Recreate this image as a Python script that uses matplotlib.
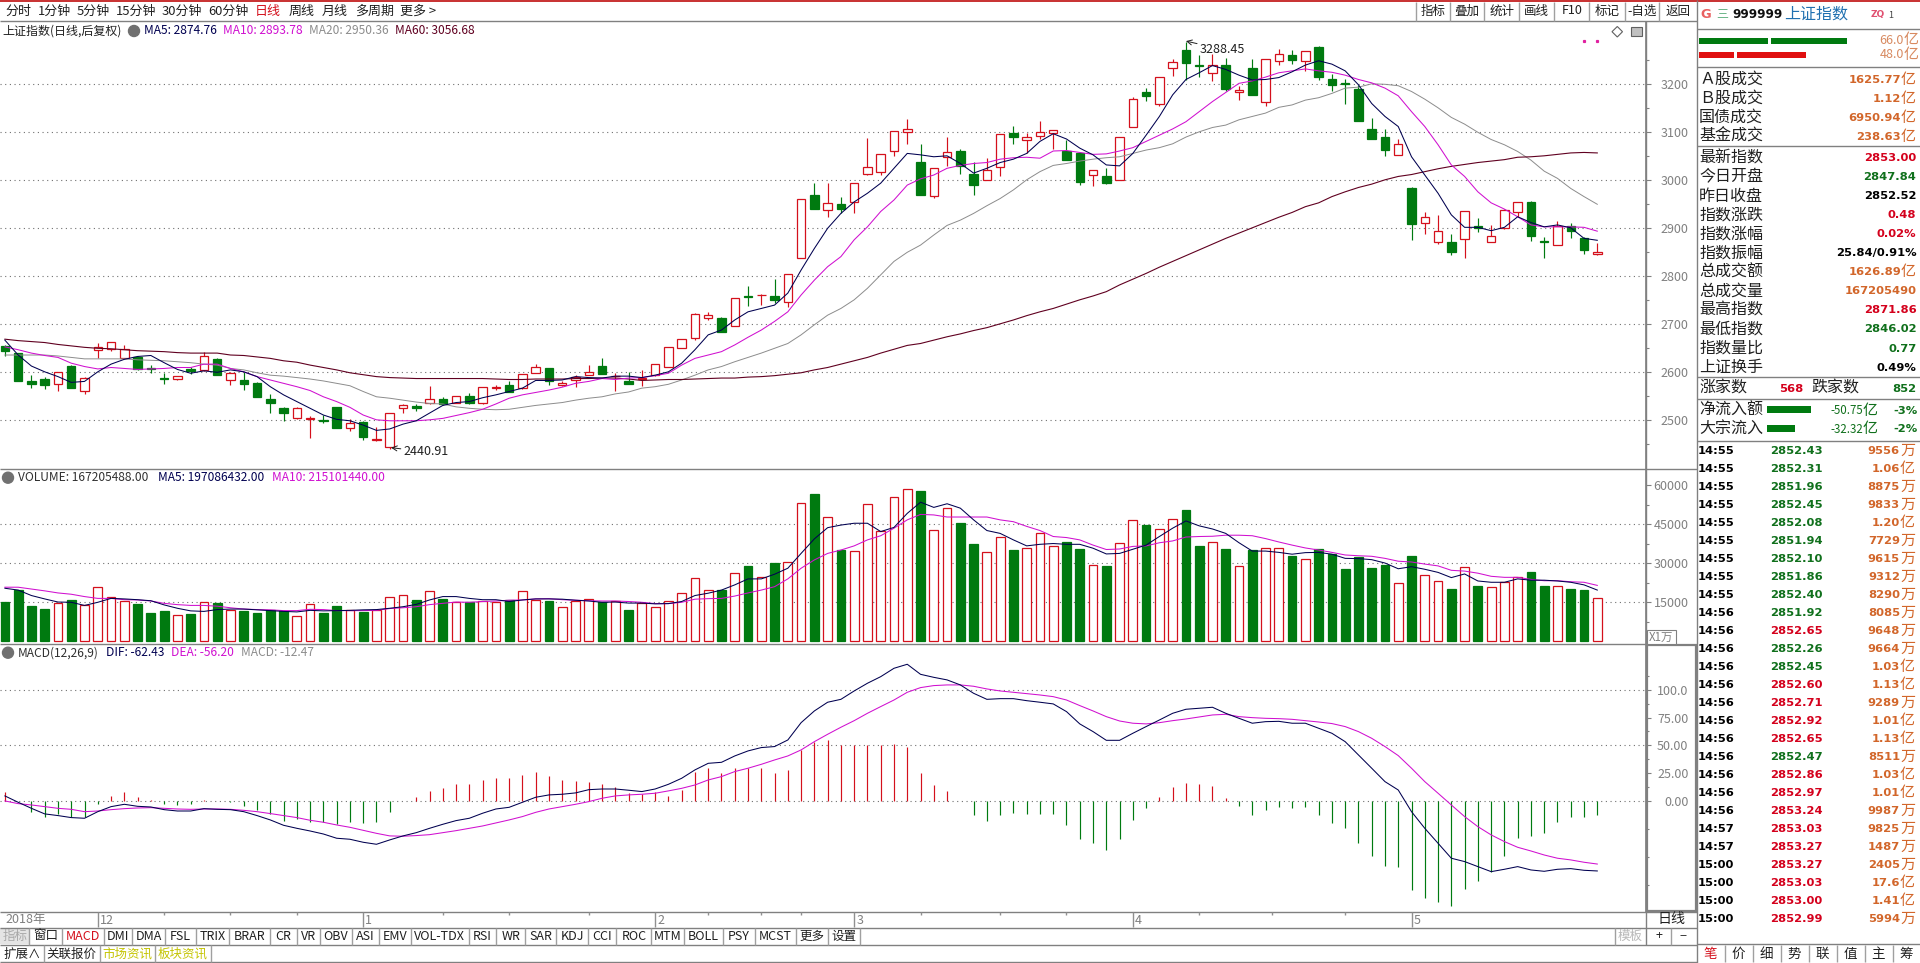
import matplotlib
matplotlib.use("Agg")
import matplotlib.pyplot as plt
from matplotlib.patches import Rectangle, Circle, Polygon

plt.rcParams['font.family'] = ['Noto Sans CJK SC', 'DejaVu Sans']

# candles
opens = [2655,2640,2581,2586,2575,2613,2562,2646,2649,2629,2631,2609,2589,2585,2606,2605,2627,2584,2584,2578,
         2544,2526,2505,2502,2501,2528,2484,2496,2459,2445,2526,2529,2536,2544,2536,2551,2535,2567,2574,2567,
         2598,2608,2574,2583,2595,2614,2592,2582,2585,2595,2612,2651,2672,2714,2713,2697,2759,2760,2759,2747,
         2838,2970,2939,2950,2954,3014,3018,3060,3101,3038,2968,3048,3061,3013,3000,3027,3099,3083,3092,3099,
         3060,3056,3011,3009,3000,3110,3184,3158,3233,3271,3240,3223,3240,3183,3233,3163,3249,3260,3249,3278,
         3210,3202,3190,3106,3090,3052,2983,2912,2872,2871,2877,2904,2871,2901,2933,2955,2873,2866,2904,2879,2846]
closes = [2645,2581,2576,2574,2600,2568,2588,2653,2664,2648,2607,2606,2585,2593,2603,2633,2595,2598,2576,2549,
          2536,2515,2525,2505,2499,2483,2494,2466,2462,2515,2531,2526,2544,2534,2551,2537,2569,2569,2559,2596,
          2611,2582,2578,2591,2600,2597,2593,2576,2588,2617,2652,2670,2722,2719,2683,2754,2756,2762,2751,2804,
          2960,2940,2952,2941,2994,3027,3054,3102,3106,2970,3025,3058,3029,2991,3021,3096,3090,3090,3100,3104,
          3042,2997,3021,2995,3090,3169,3176,3215,3246,3245,3239,3241,3191,3188,3178,3252,3263,3251,3270,3216,
          3199,3200,3124,3087,3063,3076,2908,2924,2894,2851,2937,2901,2883,2938,2954,2883,2871,2904,2894,2854,2851]
highs = [2657,2640,2595,2591,2600,2615,2590,2662,2664,2656,2634,2615,2598,2593,2612,2643,2629,2600,2600,2579,
         2554,2527,2527,2509,2511,2528,2502,2498,2485,2515,2533,2533,2572,2549,2551,2556,2569,2574,2581,2596,
         2617,2608,2582,2595,2615,2629,2598,2600,2605,2617,2652,2670,2724,2726,2715,2754,2780,2763,2794,2804,
         2960,2995,2995,2965,2994,3088,3054,3102,3128,3075,3025,3090,3065,3039,3046,3096,3113,3099,3124,3104,
         3084,3058,3021,3026,3090,3173,3192,3216,3252,3288,3261,3263,3254,3197,3253,3252,3273,3271,3270,3279,
         3222,3210,3199,3129,3106,3085,2986,2934,2928,2888,2937,2922,2906,2941,2954,2956,2881,2916,2910,2881,2869]
lows = [2633,2581,2568,2565,2562,2568,2555,2629,2645,2629,2604,2598,2576,2584,2596,2602,2595,2574,2563,2548,
        2515,2499,2502,2464,2494,2483,2478,2458,2456,2441,2516,2520,2534,2532,2536,2533,2533,2563,2558,2565,
        2598,2574,2572,2570,2595,2597,2560,2576,2571,2593,2612,2650,2667,2708,2683,2697,2738,2740,2745,2737,
        2838,2940,2924,2931,2931,3010,3010,3051,3076,2970,2963,3030,3013,2970,3000,3009,3076,3056,3086,3066,
        3042,2990,2988,2992,3000,3110,3166,3155,3217,3209,3216,3206,3187,3168,3178,3154,3241,3243,3227,3208,
        3187,3158,3124,3087,3051,3052,2876,2889,2867,2845,2839,2893,2871,2899,2924,2874,2839,2865,2880,2847,2845]

ma5 = [2667,2636,2613,2601,2591,2579,2581,2601,2617,2627,2633,2635,2620,2606,2598,2603,2600,2605,2601,2591,
       2570,2553,2539,2525,2511,2502,2499,2490,2479,2482,2492,2499,2515,2531,2537,2539,2547,2553,2560,2567,
       2583,2583,2584,2591,2589,2588,2592,2592,2589,2594,2601,2619,2647,2678,2688,2709,2726,2733,2740,2765,
       2813,2858,2900,2931,2955,2973,2994,3025,3056,3053,3049,3051,3035,3015,3025,3037,3044,3056,3081,3097,
       3086,3067,3053,3032,3030,3056,3094,3133,3178,3210,3224,3239,3231,3219,3209,3210,3214,3226,3240,3249,
       3242,3228,3199,3160,3133,3112,3049,3011,2973,2928,2902,2902,2895,2902,2924,2912,2903,2907,2901,2879,2875]
ma10 = [2653,2647,2640,2635,2631,2619,2612,2607,2610,2608,2606,2607,2608,2610,2610,2617,2617,2608,2601,2591,
        2584,2577,2570,2562,2549,2539,2527,2511,2501,2499,2499,2499,2501,2504,2510,2516,2523,2534,2546,2553,
        2558,2563,2569,2577,2581,2587,2585,2588,2589,2593,2598,2615,2629,2636,2643,2657,2673,2688,2706,2726,
        2761,2792,2820,2841,2876,2903,2935,2959,2990,3003,3011,3025,3031,3035,3037,3044,3047,3048,3046,3061,
        3062,3058,3054,3055,3061,3068,3081,3094,3107,3122,3143,3164,3183,3202,3207,3215,3224,3228,3232,3228,
        3225,3219,3210,3203,3192,3176,3143,3112,3074,3032,3008,2976,2953,2940,2924,2907,2903,2903,2903,2902,2894]
ma20 = [2636,2636,2636,2636,2634,2631,2628,2628,2628,2628,2626,2625,2624,2622,2620,2617,2615,2608,2605,2599,
        2594,2592,2589,2586,2582,2577,2572,2560,2549,2546,2542,2538,2535,2534,2528,2525,2523,2522,2523,2527,
        2531,2534,2537,2542,2546,2549,2555,2559,2567,2570,2575,2584,2594,2605,2612,2622,2631,2640,2650,2660,
        2678,2699,2719,2733,2751,2775,2803,2831,2850,2865,2886,2906,2917,2931,2947,2962,2980,3001,3018,3031,
        3035,3040,3044,3047,3049,3056,3063,3068,3076,3090,3101,3110,3115,3126,3133,3140,3152,3157,3167,3172,
        3181,3192,3194,3201,3200,3197,3185,3169,3151,3131,3117,3100,3085,3074,3060,3042,3019,3004,2983,2966,2950]
ma60 = [2669,2666,2664,2662,2658,2655,2652,2650,2649,2647,2645,2644,2643,2641,2640,2640,2640,2636,2635,2632,
        2629,2624,2621,2615,2610,2605,2599,2595,2591,2589,2588,2587,2587,2587,2587,2587,2587,2586,2585,2585,
        2586,2586,2586,2587,2587,2588,2588,2586,2583,2584,2585,2585,2586,2587,2588,2588,2590,2591,2593,2596,
        2599,2605,2610,2617,2624,2631,2640,2648,2656,2660,2667,2674,2680,2687,2693,2701,2709,2718,2726,2733,
        2742,2751,2759,2768,2782,2794,2806,2819,2831,2843,2855,2867,2879,2890,2901,2912,2923,2933,2945,2953,
        2966,2976,2985,2992,3001,3008,3012,3018,3024,3029,3033,3037,3040,3043,3048,3049,3051,3054,3057,3058,3057]

volume = [15130,19620,13590,12440,14870,15900,13970,20770,16920,15510,14360,10900,11670,10000,10510,15000,14740,12050,11670,10900,
          12050,11540,9620,14230,10900,13590,11920,11280,12180,16920,17690,15900,19230,16280,15000,15000,15510,15000,15770,19230,
          15900,15510,13210,15510,16150,15000,15510,12050,14620,13080,15380,18460,24230,19620,19620,26280,28970,24740,30130,30380,
          53080,56660,47690,35130,34610,52690,42310,55380,58460,57820,42690,51150,45510,37430,34230,40000,35130,35770,41540,36540,
          38200,35510,29360,28970,37690,46540,44740,43080,46920,50510,36670,38080,35510,28850,35130,35770,35770,32950,31540,35510,
          33460,27820,32560,28200,29490,22310,32820,25380,23080,20130,28460,21280,20770,22950,24870,26540,21280,21150,20130,19740,16720]
vol_ma5 = [20400,19700,17600,16300,15100,15000,13800,15000,16500,16300,16000,15600,14000,12700,11700,11500,12200,12400,12400,12100,
           11800,11500,11300,11900,11700,11800,11900,12100,12200,12700,13300,14200,15900,17200,17200,16500,16000,16000,15300,15900,
           16300,16300,16200,15800,15500,15000,15100,14700,14700,14400,14500,15300,17600,18500,19700,21700,24000,24000,25800,28100,
           33800,39400,43700,44700,45400,45400,42200,43800,49200,53500,51500,52900,51200,46700,42600,41500,39000,36700,37300,37600,
           37300,37300,35800,33600,33800,35400,37000,40300,43500,46300,44400,43200,41500,37900,34700,34700,34200,33500,34100,34200,
           33500,31900,31800,31400,30100,27900,28700,27700,26500,24500,25900,23200,22700,22700,24000,23500,23500,23200,22700,21700,19700]
vol_ma10 = [20800,20800,20100,19400,18600,18100,17200,16500,16500,16000,15900,15500,14600,14100,13800,13800,13500,12900,12400,12200,
            12100,11800,11800,12300,12200,11800,11800,11800,11900,12600,12900,13300,14100,14600,15100,15000,15300,15500,15800,15900,
            16300,16400,16000,15800,15600,15500,15500,15300,15000,14500,14500,15000,16200,16400,16500,17400,18600,19700,21000,24000,
            28100,31300,33800,35100,36700,39000,40600,43500,46700,48800,48600,47800,47800,47800,47800,46700,46000,44200,42600,40300,
            39900,39000,37000,35300,35500,36500,36700,37900,38600,40100,40300,40400,40800,40800,40600,39500,38200,37000,35900,35100,
            34200,33200,32900,32700,31900,30800,30500,29700,29000,27300,27000,26200,25000,24600,24600,23800,23300,23300,22900,22700,21500]

macd_hist = [8.1,0.3,-9.3,-13.7,-11.6,-14.3,-13.7,-2.1,4.8,8.4,4.2,0.9,-2.1,-3,-2.4,0.9,0.6,-0.6,-3.9,-8.1,
             -11.6,-17.3,-16.1,-18.2,-18.5,-20,-18.2,-19.7,-18.2,-9.6,0,3.6,9.3,11.9,15.5,15.5,19.1,20.9,20.6,23.6,
             26.3,22.7,19.1,18.2,17,15.5,12.8,7.8,6.3,8.1,5.1,10.1,26.6,30.1,25.1,30.1,29.6,30.1,25.7,28.1,
             46,52.8,54.9,50.4,50.4,50.4,50.4,51,49,25.1,14.6,9.3,0,-12.2,-17.6,-12.2,-10.7,-11.3,-11.3,-11.3,
             -21.2,-33.7,-37.6,-43.6,-33.7,-16.7,-5.7,3.9,13.1,16.1,15.5,13.7,2.7,-3.9,-12.2,-7.8,-4.8,-5.7,-4.8,-12.2,
             -19.1,-23.6,-37.3,-48.7,-57.6,-58.5,-79.4,-86.3,-89.9,-93.4,-78.8,-71.3,-63.6,-48.7,-33.1,-30.7,-28.1,-18.8,-13.7,-13.7,-12.5]
dif = [4.8,-0.9,-6.3,-11.3,-12.8,-14.6,-15.2,-9.3,-4.8,-2.7,-4.5,-5.1,-7.5,-8.7,-8.7,-6.6,-7.2,-7.5,-9.3,-12.8,
       -16.7,-21.5,-24.2,-26.6,-29.3,-33.1,-34,-36.7,-38.5,-34.6,-31,-28.1,-24.2,-20.6,-17.3,-15.2,-10.7,-6.9,-5.4,-0.9,
       3.6,5.7,6.3,7.5,10.4,11,11,9.9,8.7,11,15.2,20.6,28.1,34,34.9,40.6,45.1,48.1,49,54.9,
       70.4,80.9,88.7,91.3,98.8,105.7,111.6,119.1,122.7,113.7,111,108.7,104.2,96.7,91.3,91.9,91.9,90.1,88.7,87.2,
       80.3,69.3,62.4,54.6,54.6,60.9,66.9,72.8,78.8,82.4,83.3,84.2,78.8,74.3,69.9,71.3,71.6,69.9,69.9,65.4,
       60.9,53.4,41.5,29.6,17.6,10.1,-9.3,-24.2,-37.6,-51,-54,-58.5,-63,-60.9,-58.5,-61.5,-62.7,-60.9,-60.3,-61.8,-62.4]
dea = [0.3,-2.1,-3.3,-4.8,-6.3,-7.2,-9.3,-8.7,-7.5,-6.6,-6,-5.7,-6.3,-6.9,-7.2,-6.9,-6.9,-7.2,-8.1,-9.3,
       -11,-12.8,-14.6,-17,-18.8,-21.2,-23.3,-26,-28.7,-31,-31.3,-30.7,-29.9,-28.1,-26.3,-24.2,-22.1,-19.4,-16.7,-13.7,
       -9.9,-6.9,-4.8,-2.7,-0.3,2.7,4.8,5.7,6.3,7.2,9.3,11.6,14.6,19.1,22.1,26.6,29.6,33.1,37,40.6,
       46,53.4,60,66.3,72.2,78.8,84.8,90.7,97.6,101.8,103.6,104.2,104.2,103,100.6,98.8,97.6,96.4,95.2,93.7,
       90.7,85.7,80.9,75.8,71.9,69.9,69.3,70.4,72.2,73.7,75.5,77.3,77.9,75.8,74.9,74.3,74,73.4,72.2,71,
       69.6,66.9,62.4,56.4,49,40.9,29.6,17.6,7.2,-3.3,-13.7,-22.7,-30.1,-36.1,-41.2,-44.5,-48.1,-51,-52.5,-54.6,-56.2]

price_ticks = [2500, 2600, 2700, 2800, 2900, 3000, 3100, 3200]
volume_ticks = [15000, 30000, 45000, 60000]
macd_ticks = [0, 25, 50, 75, 100]
macd_labels = ["0.00", "25.00", "50.00", "75.00", "100.0"]

month_pos = [7, 27, 49, 64, 85, 106]
month_labels = ["12", "1", "2", "3", "4", "5"]
week_pos = [12, 17, 22, 33, 38, 44, 53, 57, 60, 69, 75, 80, 90, 95.5, 101]

# side panel text
turnover_names = ["Ａ股成交", "Ｂ股成交", "国债成交", "基金成交"]
turnover_vals = ["1625.77", "1.12", "6950.94", "238.63"]
stat_names = ["最新指数", "今日开盘", "昨日收盘", "指数涨跌", "指数涨幅", "指数振幅", "总成交额", "总成交量",
              "最高指数", "最低指数", "指数量比", "上证换手"]
stat_vals = ["2853.00", "2847.84", "2852.52", "0.48", "0.02%", "25.84/0.91%", "1626.89亿", "167205490",
             "2871.86", "2846.02", "0.77", "0.49%"]
stat_cols = ["r", "g", "k", "r", "r", "k", "o", "o", "r", "g", "g", "k"]
tick_times = ["14:55"] * 9 + ["14:56"] * 12 + ["14:57"] * 2 + ["15:00"] * 4
tick_prices = ["2852.43", "2852.31", "2851.96", "2852.45", "2852.08", "2851.94", "2852.10", "2851.86", "2852.40",
               "2851.92", "2852.65", "2852.26", "2852.45", "2852.60", "2852.71", "2852.92", "2852.65", "2852.47",
               "2852.86", "2852.97", "2853.24", "2853.03", "2853.27", "2853.27", "2853.03", "2853.00", "2852.99"]
tick_cols = ["g"] * 10 + ["r", "g", "g", "r", "r", "r", "r", "g", "r", "r", "r", "r", "r", "r", "r", "r", "r"]
tick_amounts = ["9556万", "1.06亿", "8875万", "9833万", "1.20亿", "7729万", "9615万", "9312万", "8290万",
                "8085万", "9648万", "9664万", "1.03亿", "1.13亿", "9289万", "1.01亿", "1.13亿", "8511万",
                "1.03亿", "1.01亿", "9987万", "9825万", "1487万", "2405万", "17.6亿", "1.41亿", "5994万"]
tab_names = ["笔", "价", "细", "势", "联", "值", "主", "筹"]
period_names = ["分时", "1分钟", "5分钟", "15分钟", "30分钟", "60分钟", "日线", "周线", "月线", "多周期", "更多 >"]
period_x = [5, 38, 77, 116, 162, 208, 255, 289, 322, 355, 400]
tool_names = ["指标", "叠加", "统计", "画线", "F10", "标记", "-自选", "返回"]
tool_edges = [1415.7, 1449.7, 1484.3, 1519.3, 1554.3, 1589.3, 1624.7, 1659.3, 1696.7]
index_names = ["指标", "窗口", "MACD", "DMI", "DMA", "FSL", "TRIX", "BRAR", "CR", "VR", "OBV", "ASI", "EMV", "VOL-TDX",
               "RSI", "WR", "SAR", "KDJ", "CCI", "ROC", "MTM", "BOLL", "PSY", "MCST", "更多", "设置"]
index_edges = [0, 29.4, 62, 103.7, 131.8, 165.3, 195.5, 229.4, 270.2, 296.7, 320.4, 351.8, 378.8, 411, 468.6, 496.3,
               525.3, 556.3, 587.8, 616.3, 651.4, 684, 723.3, 754.7, 795.5, 827.8, 859.6]
extra_names = ["扩展∧", "关联报价", "市场资讯", "板块资讯"]
extra_edges = [0, 43.7, 99.6, 155, 211]

W, H = 1920, 963
RED = "#d4101c"
GREEN = "#007a10"
NAVY = "#000050"
MAGENTA = "#d010d0"
GRAY = "#8c8c8c"
MAROON = "#600020"
LINE = "#808080"
ORANGE = "#d2662a"
TXT = {"r": "#d4001c", "g": "#10701c", "k": "#000000", "o": ORANGE}
n = len(closes)
xs = list(range(n))
x_min, x_max = -0.369, 123.67


def fs(px):
    return px * 0.72


def panel(top, bottom, ylim):
    ax = fig.add_axes([0, 1 - bottom / H, 1646 / W, (bottom - top) / H])
    ax.set_xlim(x_min, x_max)
    ax.set_ylim(*ylim)
    ax.set_xticks([])
    for s in ["left", "top", "bottom"]:
        ax.spines[s].set_visible(False)
    ax.spines["right"].set_color(LINE)
    ax.spines["right"].set_linewidth(1.2)
    ax.yaxis.tick_right()
    ax.tick_params(axis="y", which="major", length=3.6, width=0.8, color=LINE, labelcolor="#808080",
                   labelsize=fs(12.5), pad=27)
    ax.tick_params(axis="y", which="minor", length=2.2, width=0.8, color=LINE)
    ax.set_axisbelow(True)
    return ax


def grid_at(ax, values):
    for v in values:
        ax.axhline(v, color="#707070", lw=0.8, ls=(0, (1, 3.2)), zorder=0)


def right_labels(ax):
    for lab in ax.get_yticklabels():
        lab.set_ha("right")


fig = plt.figure(figsize=(W / 100, H / 100), dpi=100, facecolor="white")

# price panel
ax1 = panel(21.5, 469.5, (2397.5, 3330.8))
ax1.set_yticks(price_ticks)
ax1.set_yticks([p + 50 for p in price_ticks[:-1]] + [2450, 3250], minor=True)
right_labels(ax1)
grid_at(ax1, price_ticks)
for i in xs:
    up = closes[i] >= opens[i]
    col = RED if up else GREEN
    ax1.vlines(i, lows[i], highs[i], color=col, lw=0.85, zorder=2)
    ax1.bar(i, abs(closes[i] - opens[i]), bottom=min(opens[i], closes[i]), width=0.64,
            facecolor="white" if up else col, edgecolor=col, lw=0.9, zorder=3)
ax1.plot(xs, ma20, color=GRAY, lw=0.7, zorder=4)
ax1.plot(xs, ma60, color=MAROON, lw=0.8, zorder=4)
ax1.plot(xs, ma10, color=MAGENTA, lw=0.75, zorder=5)
ax1.plot(xs, ma5, color=NAVY, lw=0.75, zorder=6)
ax1.annotate("2440.91", xy=(29.1, 2443), xytext=(9, -3), textcoords="offset points", va="center",
             fontsize=fs(12.5), color="#202020", arrowprops=dict(arrowstyle="->", color="#202020", lw=0.7, shrinkA=0, shrinkB=0))
ax1.annotate("3288.45", xy=(89, 3290), xytext=(10, -6), textcoords="offset points", va="center",
             fontsize=fs(12.5), color="#202020", arrowprops=dict(arrowstyle="->", color="#202020", lw=0.7, shrinkA=0, shrinkB=0))

# volume panel
ax2 = panel(469.5, 644.5, (-1231, 66073))
ax2.set_yticks(volume_ticks)
ax2.set_yticks([7500, 22500, 37500, 52500], minor=True)
right_labels(ax2)
grid_at(ax2, volume_ticks[:3])
for i in xs:
    up = closes[i] >= opens[i]
    col = RED if up else GREEN
    ax2.bar(i, volume[i], width=0.66, facecolor="white" if up else col, edgecolor=col, lw=0.9, zorder=3)
ax2.plot(xs, vol_ma10, color=MAGENTA, lw=0.75, zorder=4)
ax2.plot(xs, vol_ma5, color=NAVY, lw=0.75, zorder=5)

# macd panel
ax3 = panel(644.5, 911.5, (-98.7, 140.4))
ax3.set_yticks(macd_ticks)
ax3.set_yticklabels(macd_labels)
ax3.set_yticks([-75, -50, -25, 12.5, 37.5, 62.5, 87.5, 112.5], minor=True)
right_labels(ax3)
grid_at(ax3, [0, 50, 100])
ax3.vlines(xs, 0, macd_hist, colors=[RED if v > 0 else GREEN for v in macd_hist], lw=0.85, zorder=2)
ax3.plot(xs, dea, color=MAGENTA, lw=0.75, zorder=3)
ax3.plot(xs, dif, color=NAVY, lw=0.75, zorder=4)

# everything round the panels, in pixel units of the window
ov = fig.add_axes([0, 0, 1, 1], facecolor="none", zorder=10)
ov.set_xlim(0, W)
ov.set_ylim(H, 0)
ov.axis("off")


def hline(y, x0=0, x1=W, color=LINE, lw=1.0):
    ov.plot([x0, x1], [y, y], color=color, lw=lw, solid_capstyle="butt")


def vline(x, y0, y1, color=LINE, lw=1.0):
    ov.plot([x, x], [y0, y1], color=color, lw=lw, solid_capstyle="butt")


def txt(x, y, s, px=12, color="black", ha="left", bold=False, **kw):
    if bold:
        kw.setdefault("family", "DejaVu Sans")
    ov.text(x, y, s, fontsize=fs(px), color=color, ha=ha, va="center",
            fontweight="bold" if bold else "normal", **kw)


hline(0.7, color="#c83030", lw=1.4)
hline(21.5, 0, 1696.5)
hline(469.5, 0, 1696.5)
hline(644.5, 0, 1646)
hline(911.7, 0, 1696.5)
hline(927.7, 0, 1696.5)
hline(944.7, 0, 1696.5)
hline(961.8, 0, 1696.5)
vline(1646, 21.5, 944.7)
vline(1696.5, 0, H)
ov.add_patch(Rectangle((1646.5, 645), 49, 266, facecolor="none", edgecolor=LINE, lw=1.6))

# toolbar
for x, s in zip(period_x, period_names):
    txt(x, 11, s, 13, RED if s == "日线" else "#202020")
for i, s in enumerate(tool_names):
    vline(tool_edges[i], 2, 21.5, color="#a0a0a0")
    txt((tool_edges[i] + tool_edges[i + 1]) / 2, 11, s, 12.5, "#202020", ha="center")

# legends
txt(2, 31, "上证指数(日线,后复权)", 12, "#202020")
ov.add_patch(Circle((134, 31), 5.5, color="#707070"))
for x, s, c in [(144, "MA5: 2874.76", NAVY), (223, "MA10: 2893.78", MAGENTA), (309, "MA20: 2950.36", GRAY), (395, "MA60: 3056.68", MAROON)]:
    txt(x, 31, s, 12, c)
ov.add_patch(Circle((8, 477.7), 5.5, color="#707070"))
for x, s, c in [(18, "VOLUME: 167205488.00", "#303030"), (158, "MA5: 197086432.00", NAVY), (272, "MA10: 215101440.00", MAGENTA)]:
    txt(x, 477.7, s, 12, c)
ov.add_patch(Circle((8, 652.7), 5.5, color="#707070"))
for x, s, c in [(18, "MACD(12,26,9)", "#303030"), (106, "DIF: -62.43", NAVY), (171, "DEA: -56.20", MAGENTA), (241, "MACD: -12.47", GRAY)]:
    txt(x, 652.7, s, 12, c)

# small window icons and the two pink dots
ov.add_patch(Polygon([(1612, 31.7), (1617.3, 26.5), (1622.5, 31.7), (1617.3, 37)], facecolor="none", edgecolor="#606060", lw=0.8))
ov.add_patch(Rectangle((1630.5, 27), 11, 9, facecolor="#c0c0c0", edgecolor="#606060", lw=0.8))
ov.plot([1583.5, 1597], [41, 41], ls="none", marker="s", ms=1.3, color="#e020a0")

# date axis
txt(5, 920, "2018年", 12.5, "#808080")
for p, s in zip(month_pos, month_labels):
    x = ax3.transData.transform((p, 0))[0]
    vline(x, 912, 927.5, color="#909090")
    txt(x + 2, 920, s, 12.5, "#808080")
for p in week_pos:
    x = ax3.transData.transform((p, 0))[0]
    vline(x, 912, 915, color="#909090")
txt(1671, 919.5, "日线", 14, "#202020", ha="center")

# indicator buttons
ov.add_patch(Rectangle((0, 928), 29.4, 16.5, facecolor="#e4e4e4", edgecolor="none"))
for i, s in enumerate(index_names):
    c = "#a8a8a8" if s == "指标" and i == 0 else (RED if s == "MACD" else "#202020")
    vline(index_edges[i + 1], 928, 944.7, color="#a0a0a0")
    txt((index_edges[i] + index_edges[i + 1]) / 2, 936, s, 12.5, c, ha="center")
for i, s in enumerate(extra_names):
    c = "#c4c400" if i >= 2 else "#202020"
    vline(extra_edges[i + 1], 945, 961.8, color="#a0a0a0")
    txt((extra_edges[i] + extra_edges[i + 1]) / 2, 954, s, 12.5, c, ha="center")
vline(1615, 928, 944.7, color="#a0a0a0")
vline(1670.7, 928, 944.7, color="#a0a0a0")
txt(1630.5, 936, "模板", 12.5, "#b8b8b8", ha="center")
txt(1658.7, 936, "+", 12.5, "#202020", ha="center")
txt(1683, 936, "−", 12.5, "#202020", ha="center")

# x1万 box
ov.add_patch(Rectangle((1647, 630), 29, 14.5, facecolor="white", edgecolor=LINE, lw=0.8))
txt(1661.5, 637.5, "X1万", 11.5, "#808080", ha="center")

# side panel
X0 = 1699
txt(1705.7, 14, "G", 13, "#e86060", ha="center", bold=True)
txt(1722, 14, "三", 12, "#60b080", ha="center")
txt(1732.5, 14, "999999", 12, "#101010", bold=True)
txt(1784, 14, "上证指数", 16, "#2070b0")
txt(1871, 15, "ZQ", 9, "#e05070", bold=True)
txt(1888, 15, "1", 9, "#404040")
for y in [29, 67, 146, 377, 398.7, 441]:
    hline(y, 1696.5, W)
hline(944.3, 1696.5, W)
for x0, x1 in [(1699, 1768), (1771, 1847)]:
    ov.add_patch(Rectangle((x0, 38), x1 - x0, 6, color=GREEN, lw=0))
for x0, x1 in [(1699, 1734), (1737, 1806)]:
    ov.add_patch(Rectangle((x0, 52.5), x1 - x0, 6, color="#e01010", lw=0))
for y, s in [(40, "66.0"), (55, "48.0")]:
    txt(1904, y, s, 12.5, "#d88a60", ha="right")
    txt(1904, y, "亿", 15, "#d88a60")

for i, (a, b) in enumerate(zip(turnover_names, turnover_vals)):
    y = 79.6 + i * 19
    txt(X0, y, a, 16, "#202020")
    txt(1901, y, b, 11.5, ORANGE, ha="right", bold=True)
    txt(1901, y, "亿", 15, ORANGE)

for i, (a, b, c) in enumerate(zip(stat_names, stat_vals, stat_cols)):
    y = 158 + i * 19.05
    txt(X0, y, a, 16, "#202020")
    if b.endswith("亿"):
        txt(1901, y, b[:-1], 11.5, TXT[c], ha="right", bold=True)
        txt(1901, y, "亿", 15, TXT[c])
    else:
        txt(1916.5, y, b, 11.5, TXT[c], ha="right", bold=True)

txt(X0, 388.5, "涨家数", 16, "#202020")
txt(1803, 388.5, "568", 11.5, TXT["r"], ha="right", bold=True)
txt(1811, 388.5, "跌家数", 16, "#202020")
txt(1916.5, 388.5, "852", 11.5, TXT["g"], ha="right", bold=True)

txt(X0, 410.5, "净流入额", 16, "#202020")
ov.add_patch(Rectangle((1767, 406.5), 44, 7, color=GREEN, lw=0))
txt(1863, 410.5, "-50.75", 11.5, TXT["g"], ha="right")
txt(1863, 410.5, "亿", 15, TXT["g"])
txt(1918, 410.5, "-3%", 11.5, TXT["g"], ha="right", bold=True)
txt(X0, 429.5, "大宗流入", 16, "#202020")
ov.add_patch(Rectangle((1767, 425.5), 28, 7, color=GREEN, lw=0))
txt(1863, 429.5, "-32.32", 11.5, TXT["g"], ha="right")
txt(1863, 429.5, "亿", 15, TXT["g"])
txt(1918, 429.5, "-2%", 11.5, TXT["g"], ha="right", bold=True)

for i in range(len(tick_times)):
    y = 451.3 + i * 18
    txt(1698, y, tick_times[i], 11.5, "#000000", bold=True)
    txt(1822.5, y, tick_prices[i], 11.5, TXT[tick_cols[i]], ha="right", bold=True)
    txt(1900, y, tick_amounts[i][:-1], 11.5, ORANGE, ha="right", bold=True)
    txt(1900, y, tick_amounts[i][-1], 15, ORANGE)

for i, s in enumerate(tab_names):
    x = 1696.5 + i * 28
    if i:
        vline(x, 945, 962, color="#a0a0a0")
    txt(x + 14, 954, s, 13.5, RED if i == 0 else "#202020", ha="center")

fig.savefig("out.png", dpi=100)
